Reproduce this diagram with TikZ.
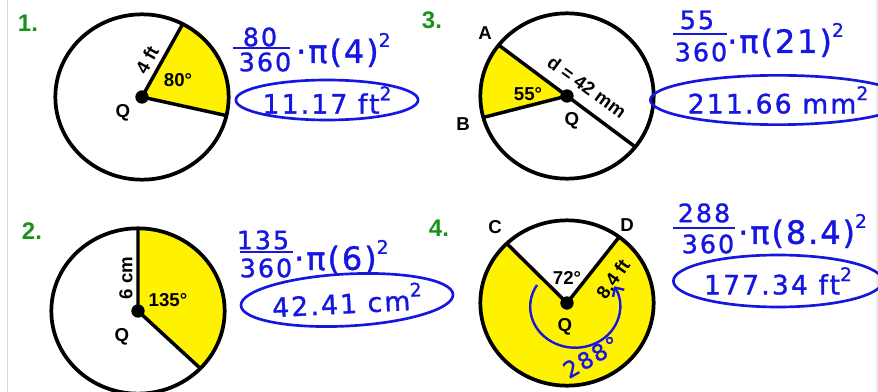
\documentclass[tikz,border=0pt]{standalone}
\usepackage{fontspec}
\setmainfont{Liberation Sans}
\newfontfamily\handfont[LetterSpace=8,FakeBold=1.2]{DejaVu Sans}
\newfontfamily\handwide[LetterSpace=6,FakeBold=1.2]{DejaVu Sans}
\usetikzlibrary{calc,shapes.geometric,arrows.meta}
\definecolor{hblue}{RGB}{22,22,225}
\definecolor{numgreen}{RGB}{25,145,25}
\newcommand\hsq{\raisebox{.5em}{\fontsize{14}{14}\selectfont 2}}
\begin{document}
\begin{tikzpicture}[x=0.75pt,y=-0.75pt,
  rim/.style={line width=2.8pt},
  rad/.style={line width=2.6pt},
  secfill/.style={fill=yellow},
  lbl/.style={font=\bfseries\fontsize{14}{14}\selectfont, inner sep=0pt},
  num/.style={font=\bfseries\fontsize{18}{18}\selectfont, text=numgreen, inner sep=0pt},
  dotq/.style={circle, fill=black, minimum size=10pt, inner sep=0pt},
  hand/.style={font=\handfont\fontsize{19}{19}\selectfont, text=hblue, inner sep=0pt},
  handbig/.style={font=\handwide\fontsize{24}{24}\selectfont, text=hblue, inner sep=0pt, anchor=west},
  bar/.style={draw=hblue, line width=1.8pt},
  ans/.style={ellipse, draw=hblue, line width=2pt, inner sep=0pt, text=hblue,
              font=\handfont\fontsize{20}{20}\selectfont},
  harrow/.style={draw=hblue, line width=1.8pt, -{Straight Barb[length=5pt,width=10pt]}},
  er/.style={x radius=65pt, y radius=62pt}
]
\useasboundingbox (0,0) rectangle (878,392);
\clip (0,0) rectangle (878,392);
\draw[black!15, line width=0.8pt] (7.5,0) -- (7.5,392);
\draw[black!8, line width=0.8pt] (877,0) -- (877,392);

% ---------- numbers ----------
\node[num] (k1) at (28,23) {1.};
\node[num] (k3) at (432,20) {3.};
\node[num] (k2) at (32,231) {2.};
\node[num] (k4) at (439,228) {4.};

% ---------- circle 1 ----------
\coordinate (c1) at (142,97);
\coordinate (p1a) at ($(c1)+(62:65pt and 62pt)$);
\coordinate (p1b) at ($(c1)+(-13:65pt and 62pt)$);
\fill[secfill] (c1) -- (p1b) arc[start angle=-13, end angle=62, er] -- cycle;
\draw[rim] (c1) ellipse[er];
\draw[rad] (p1a) -- (c1) -- (p1b);
\node[dotq] (q1) at (c1) {};
\node[lbl, rotate=61] (r1) at (147,60) {4 ft};
\node[lbl] (a1) at (178,80) {80°};
\node[lbl] (Q1) at (123,113) {Q};

% ---------- circle 3 ----------
\coordinate (c3) at (567,96);
\coordinate (pA) at ($(c3)+(142:65pt and 62pt)$);
\coordinate (pE) at ($(c3)+(-38:65pt and 62pt)$);
\coordinate (pB) at ($(c3)+(195:65pt and 62pt)$);
\fill[secfill] (c3) -- (pA) arc[start angle=142, end angle=195, er] -- cycle;
\draw[rim] (c3) ellipse[er];
\draw[rad] (pA) -- (pE);
\draw[rad] (c3) -- (pB);
\node[dotq] (q3) at (c3) {};
\node[lbl] (LA) at (485,33) {A};
\node[lbl] (LB) at (463,124) {B};
\node[lbl] (a3) at (528,94) {55°};
\node[lbl] (Q3) at (572,121) {Q};
\node[lbl, rotate=-36] (r3) at (587,87) {d = 42 mm};

% ---------- circle 2 ----------
\coordinate (c2) at (138,311);
\coordinate (p2a) at ($(c2)+(90:65pt and 62pt)$);
\coordinate (p2b) at ($(c2)+(-44:65pt and 62pt)$);
\fill[secfill] (c2) -- (p2b) arc[start angle=-44, end angle=90, er] -- cycle;
\draw[rim] (c2) ellipse[er];
\draw[rad] (p2a) -- (c2) -- (p2b);
\node[dotq] (q2) at (c2) {};
\node[lbl, rotate=90] (r2) at (126,278) {6 cm};
\node[lbl] (a2) at (168,300) {135°};
\node[lbl] (Q2) at (122,337) {Q};

% ---------- circle 4 ----------
\coordinate (c4) at (567,303);
\coordinate (pD) at ($(c4)+(53:65pt and 62pt)$);
\coordinate (pC) at ($(c4)+(134:65pt and 62pt)$);
\fill[secfill] (c4) -- (pC) arc[start angle=134, end angle=413, er] -- cycle;
\draw[rim] (c4) ellipse[er];
\draw[rad] (pC) -- (c4) -- (pD);
\node[dotq] (q4) at (c4) {};
\node[lbl] (LC) at (495,227) {C};
\node[lbl] (LD) at (627,225) {D};
\node[lbl] (a4) at (567,278) {72°};
\node[lbl, rotate=55] (r4) at (613,279) {8.4 ft};
\node[lbl] (Q4) at (565,327) {Q};
\coordinate (arcS) at (537,285);
\draw[harrow] (arcS) arc[start angle=148, end angle=390, x radius=33.75pt, y radius=30.75pt];
\node[hand, rotate=30, font=\handfont\fontsize{17}{17}\selectfont] (t288) at (591,357) {288°};

% ---------- formula 1 ----------
\node[hand] (n1) at (260,37) {80};
\node[hand] (d1) at (265,62) {360};
\coordinate (b1l) at (233,48); \coordinate (b1r) at (290,48);
\draw[bar] (b1l) -- (b1r);
\node[handbig] (m1) at (296,50) {·π(4)\hsq};
\node[ans, minimum width=120pt, minimum height=30pt] (s1) at (327,100) {11.17 ft\hsq};

% ---------- formula 3 ----------
\node[hand] (n3) at (697,20) {55};
\node[hand] (d3) at (701,52) {360};
\coordinate (b3l) at (673,34); \coordinate (b3r) at (727,34);
\draw[bar] (b3l) -- (b3r);
\node[handbig] (m3) at (727,40) {·π(21)\hsq};
\node[ans, minimum width=147pt, minimum height=37pt] (s3) at (778,100) {211.66 mm\hsq};

% ---------- formula 2 ----------
\node[hand] (n2) at (263,240) {135};
\node[hand] (d2) at (266,268) {360};
\coordinate (b2l) at (240,252); \coordinate (b2r) at (293,252);
\draw[bar] (b2l) -- (b2r);
\node[handbig] (m2) at (294,257) {·π(6)\hsq};
\node[ans, rotate=3, minimum width=150pt, minimum height=39pt] (s2) at (347,300) {42.41 cm\hsq};

% ---------- formula 4 ----------
\node[hand] (n4) at (704,213) {288};
\node[hand] (d4) at (708,244) {360};
\coordinate (b4l) at (673,228); \coordinate (b4r) at (735,228);
\draw[bar] (b4l) -- (b4r);
\node[handbig] (m4) at (738,231) {·π(8.4)\hsq};
\node[ans, minimum width=143pt, minimum height=39pt] (s4) at (778,281) {177.34 ft\hsq};
\end{tikzpicture}
\end{document}
